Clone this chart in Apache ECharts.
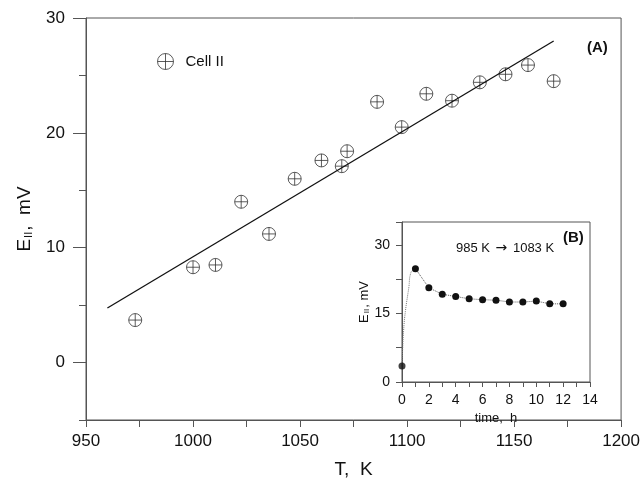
<!DOCTYPE html>
<html>
<head>
<meta charset="utf-8">
<script src="https://cdn.jsdelivr.net/npm/echarts@6/dist/echarts.min.js"></script>
<style>
  html, body { margin: 0; padding: 0; background: #fff; }
  #chart { width: 643px; height: 484px; }
</style>
</head>
<body>
<div id="chart"></div>
<script>
// main panel (A): Cell II, E vs T
const cellT = [973, 1000, 1010.5, 1022.5, 1035.5, 1047.5, 1060, 1069.5, 1072, 1086, 1097.5, 1109, 1121, 1134, 1146, 1156.5, 1168.5]
const cellE = [3.7, 8.3, 8.5, 14.0, 11.2, 16.0, 17.6, 17.1, 18.4, 22.7, 20.5, 23.4, 22.8, 24.4, 25.1, 25.9, 24.5]
const fitT = [960, 1168.5]
const fitE = [4.75, 28.0]

// inset (B): E vs time after 985 K -> 1083 K step
const timeH = [0, 1, 2, 3, 4, 5, 6, 7, 8, 9, 10, 11, 12]
const timeE = [3.5, 24.8, 20.6, 19.2, 18.7, 18.2, 18.0, 17.9, 17.5, 17.5, 17.7, 17.1, 17.1]
// the dotted rise drawn between the first two points
const riseH = [0, 0.05, 0.12, 0.25, 0.5, 0.67, 1]
const riseE = [3.5, 7.3, 11.3, 15.4, 20.5, 24.0, 24.8]

const ink = '#111'
const axisGray = '#555'
const crossCircle = 'path://M0,-10A10,10 0 1,1 0,10A10,10 0 1,1 0,-10Z M-10,0L10,0 M0,-10L0,10'
const font = 'Liberation Sans, Arial, sans-serif'

const zip = (xs, ys) => xs.map((x, i) => [x, ys[i]])

const chart = echarts.init(document.getElementById('chart'), null, { renderer: 'canvas' })

chart.setOption({
  backgroundColor: '#fff',
  animation: false,
  textStyle: { fontFamily: font, color: ink },
  grid: [
    { left: 86, right: 21, top: 18, bottom: 59, show: true, borderColor: axisGray, borderWidth: 1, backgroundColor: 'transparent' },
    { left: 402, right: 53, top: 222, bottom: 102, show: true, borderColor: axisGray, borderWidth: 1, backgroundColor: '#fff', z: 5 },
  ],
  legend: {
    left: 157, top: 53, padding: 0,
    itemWidth: 16, itemHeight: 16,
    data: [{ name: 'Cell II', icon: crossCircle }],
    itemStyle: { color: 'transparent', borderColor: '#333', borderWidth: 1 },
    textStyle: { fontSize: 15, color: ink, fontFamily: font, padding: [0, 0, 0, 7] },
  },
  xAxis: [
    {
      gridIndex: 0, type: 'value', min: 950, max: 1200, interval: 25,
      name: 'T,  K', nameLocation: 'middle', nameGap: 40,
      nameTextStyle: { fontSize: 19, color: ink },
      axisLine: { onZero: false, lineStyle: { color: axisGray } },
      axisTick: { length: 7, lineStyle: { color: axisGray } },
      axisLabel: { fontSize: 17, color: ink, margin: 13, formatter: (v) => (v % 50 === 0 ? v : '') },
      splitLine: { show: false },
    },
    {
      gridIndex: 1, type: 'value', min: 0, max: 14, interval: 1,
      name: 'time,  h', nameLocation: 'middle', nameGap: 30,
      nameTextStyle: { fontSize: 13, color: ink },
      axisLine: { onZero: false, lineStyle: { color: axisGray } },
      axisTick: { length: 5, lineStyle: { color: axisGray } },
      axisLabel: { fontSize: 14, color: ink, margin: 11, formatter: (v) => (v % 2 === 0 ? v : '') },
      splitLine: { show: false },
      z: 6,
    },
  ],
  yAxis: [
    {
      gridIndex: 0, type: 'value', min: -5, max: 30, position: 'left',
      name: '{e|E}{s|II}{e|,  mV}', nameLocation: 'middle', nameGap: 52, nameRotate: 90,
      nameTextStyle: {
        color: ink,
        rich: {
          e: { fontSize: 19, fontFamily: font, color: ink },
          s: { fontSize: 11, fontFamily: font, color: ink, verticalAlign: 'bottom', padding: [8, 1, 0, 1] },
        },
      },
      axisLine: { onZero: false, lineStyle: { color: axisGray } },
      axisTick: { length: 13, customValues: [0, 10, 20, 30], lineStyle: { color: axisGray } },
      axisLabel: { fontSize: 17, color: ink, margin: 21, customValues: [0, 10, 20, 30] },
      splitLine: { show: false },
    },
    {
      // short ticks every 5 mV on the main panel
      gridIndex: 0, type: 'value', min: -5, max: 30, interval: 5, position: 'left', offset: 0,
      axisLine: { show: false, onZero: false },
      axisTick: { length: 7, lineStyle: { color: axisGray } },
      axisLabel: { show: false },
      splitLine: { show: false },
    },
    {
      gridIndex: 1, type: 'value', min: 0, max: 35, interval: 7.5, position: 'left',
      name: '{e|E}{s|II}{e|, mV}', nameLocation: 'middle', nameGap: 30, nameRotate: 90,
      nameTextStyle: {
        color: ink,
        rich: {
          e: { fontSize: 13, fontFamily: font, color: ink },
          s: { fontSize: 8, fontFamily: font, color: ink, verticalAlign: 'bottom', padding: [5, 1, 0, 1] },
        },
      },
      axisLine: { onZero: false, lineStyle: { color: axisGray } },
      axisTick: { length: 6, lineStyle: { color: axisGray } },
      axisLabel: { fontSize: 14, color: ink, margin: 12, formatter: (v) => (v % 15 === 0 ? v : '') },
      splitLine: { show: false },
      z: 6,
    },
  ],
  graphic: [
    { type: 'text', left: 587, top: 40, z: 10, style: { text: '(A)', font: 'bold 15px ' + font, fill: ink } },
    { type: 'text', left: 563, top: 230, z: 10, style: { text: '(B)', font: 'bold 15px ' + font, fill: ink } },
    {
      type: 'text', left: 456, top: 241, z: 10,
      style: {
        text: '985 K {a|\u2192} 1083 K', font: '13px ' + font, fill: ink,
        rich: { a: { fontSize: 14, fontFamily: 'DejaVu Sans', fill: ink, padding: [0, 2, 1, 2] } },
      },
    },
  ],
  series: [
    {
      name: 'Cell II', type: 'scatter', xAxisIndex: 0, yAxisIndex: 0,
      symbol: crossCircle, symbolSize: 13,
      itemStyle: { color: 'transparent', borderColor: '#333', borderWidth: 1 },
      data: zip(cellT, cellE),
    },
    {
      name: 'fit', type: 'line', xAxisIndex: 0, yAxisIndex: 0,
      showSymbol: false, lineStyle: { color: ink, width: 1.3 },
      data: zip(fitT, fitE),
    },
    {
      name: 'rise', type: 'line', xAxisIndex: 1, yAxisIndex: 2, z: 7,
      showSymbol: false, smooth: true,
      lineStyle: { color: '#777', width: 1, type: 'dotted' },
      data: zip(riseH, riseE),
    },
    {
      name: 'relax', type: 'line', xAxisIndex: 1, yAxisIndex: 2, z: 7,
      symbol: 'circle', symbolSize: 7,
      itemStyle: { color: ink },
      lineStyle: { color: '#555', width: 1, type: 'dotted' },
      data: zip(timeH.slice(1), timeE.slice(1)),
    },
    {
      name: 'start', type: 'scatter', xAxisIndex: 1, yAxisIndex: 2, z: 8,
      symbol: 'circle', symbolSize: 7,
      itemStyle: { color: ink },
      data: zip(timeH.slice(0, 1), timeE.slice(0, 1)),
    },
  ],
})
</script>
</body>
</html>
